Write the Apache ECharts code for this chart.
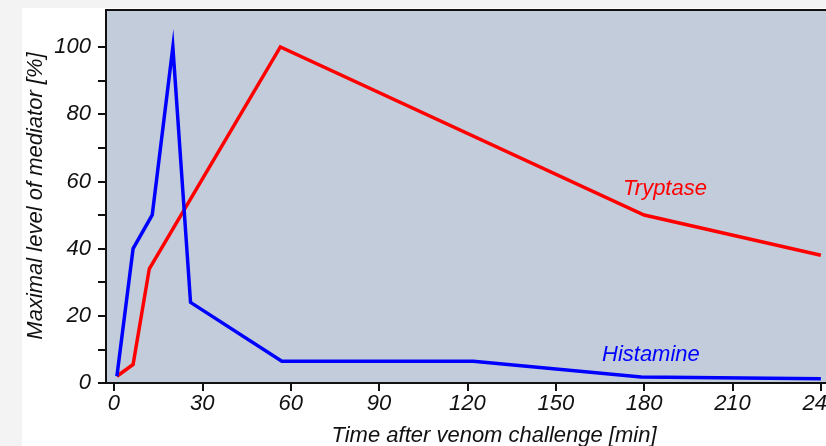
<!DOCTYPE html>
<html>
<head>
<meta charset="utf-8">
<script src="https://cdn.jsdelivr.net/npm/echarts@6/dist/echarts.min.js"></script>
<style>
  html, body { margin: 0; padding: 0; background: #f3f3f3; }
  #panel { position: absolute; left: 22px; top: 8px; width: 804px; height: 438px; background: #ffffff; }
  #chart { position: absolute; left: 0; top: 0; width: 826px; height: 446px; }
</style>
</head>
<body>
<div id="panel"></div>
<div id="chart"></div>
<script>
// ---- data ----
const xTickValues = [0, 30, 60, 90, 120, 150, 180, 210, 240];
const yLabelValues = [0, 20, 40, 60, 80, 100];
const yTickValues = [0, 10, 20, 30, 40, 50, 60, 70, 80, 90, 100];

const histamineTime = [1, 6.5, 13, 20, 26, 57, 122, 179, 240];
const histamineLevel = [2, 40, 50, 100, 24, 6.5, 6.5, 1.8, 1.3];

const tryptaseTime = [1, 6.5, 12, 56.5, 180, 240];
const tryptaseLevel = [2, 5.5, 34, 100, 50, 38];

const xTitle = 'Time after venom challenge [min]';
const yTitle = 'Maximal level of mediator [%]';

function pairs(xs, ys) { return xs.map((x, i) => [x, ys[i]]); }

const font = '"Liberation Sans", Arial, Helvetica, sans-serif';
const textColor = '#111111';

const chart = echarts.init(document.getElementById('chart'), null, { renderer: 'canvas' });
chart.setOption({
  animation: false,
  backgroundColor: 'transparent',
  grid: {
    left: 106, top: 10, width: 734, height: 373,
    outerBoundsMode: 'none', containLabel: false,
    show: true, backgroundColor: '#c2ccdb', borderColor: '#111', borderWidth: 2
  },
  xAxis: {
    type: 'value', min: -2.7, max: 246.5,
    splitLine: { show: false },
    axisLine: { onZero: false, lineStyle: { color: '#111', width: 2 } },
    axisTick: { customValues: xTickValues, length: 8, lineStyle: { color: '#111', width: 2 } },
    axisLabel: {
      customValues: xTickValues, margin: 10,
      fontFamily: font, fontSize: 22, fontStyle: 'italic', color: textColor
    }
  },
  yAxis: {
    type: 'value', min: 0, max: 111,
    splitLine: { show: false },
    axisLine: { onZero: false, lineStyle: { color: '#111', width: 2 } },
    axisTick: { customValues: yTickValues, length: 8, lineStyle: { color: '#111', width: 2 } },
    axisLabel: {
      customValues: yLabelValues, margin: 15, padding: [5, 0, 0, 0],
      fontFamily: font, fontSize: 22, fontStyle: 'italic', color: textColor
    }
  },
  series: [
    {
      name: 'Tryptase', type: 'line', data: pairs(tryptaseTime, tryptaseLevel),
      showSymbol: false, symbol: 'none',
      lineStyle: { color: '#ff0000', width: 3.5, join: 'miter', miterLimit: 20 }
    },
    {
      name: 'Histamine', type: 'line', data: pairs(histamineTime, histamineLevel),
      showSymbol: false, symbol: 'none',
      lineStyle: { color: '#0000ff', width: 3.5, join: 'miter', miterLimit: 20 }
    }
  ],
  graphic: [
    {
      type: 'text', x: 494, y: 436,
      style: { text: xTitle, font: 'italic 22px ' + font, fill: textColor, align: 'center', verticalAlign: 'middle' }
    },
    {
      type: 'text', x: 36, y: 196, rotation: Math.PI / 2,
      style: { text: yTitle, font: 'italic 22px ' + font, fill: textColor, align: 'center', verticalAlign: 'middle' }
    },
    {
      type: 'text', x: 623, y: 189,
      style: { text: 'Tryptase', font: 'italic 22px ' + font, fill: '#ff0000', align: 'left', verticalAlign: 'middle' }
    },
    {
      type: 'text', x: 602, y: 355,
      style: { text: 'Histamine', font: 'italic 22px ' + font, fill: '#0000ff', align: 'left', verticalAlign: 'middle' }
    }
  ]
});
</script>
</body>
</html>
